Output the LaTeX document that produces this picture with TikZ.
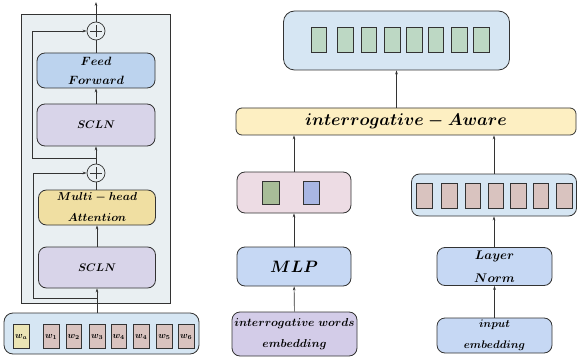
\RequirePackage{fix-cm}
\documentclass[tikz,border=0pt]{standalone}
\usepackage{amsmath,bm}
\usetikzlibrary{arrows.meta}
\definecolor{panel}{HTML}{E9EFF2}
\definecolor{ffblue}{HTML}{BCD3EE}
\definecolor{lav}{HTML}{D8D4E9}
\definecolor{wheat}{HTML}{F0DFA2}
\definecolor{ltblue}{HTML}{D6E6F3}
\definecolor{tile}{HTML}{D9C3BF}
\definecolor{tilea}{HTML}{EBE5B5}
\definecolor{gtile}{HTML}{BDD8C4}
\definecolor{iaye}{HTML}{FDEFC2}
\definecolor{pink}{HTML}{EDDCE4}
\definecolor{dgreen}{HTML}{A8BD98}
\definecolor{dblue}{HTML}{A9B6E3}
\definecolor{mlpblue}{HTML}{C6D8F4}
\definecolor{iwe}{HTML}{D3CCE8}
\definecolor{edge}{HTML}{333333}
\tikzset{
  box/.style={draw=edge, line width=0.8pt, rounded corners=8pt, inner sep=0pt, align=center},
  tilebox/.style={draw=edge, line width=0.7pt, fill=tile, inner sep=0pt, minimum width=15.6pt, minimum height=24pt, font=\fontsize{9}{10}\selectfont\boldmath},
  arr/.style={-{Stealth[length=4pt,width=2.6pt]}, line width=0.6pt, draw=edge},
  ln/.style={line width=0.6pt, draw=edge},
  plus/.style={circle, draw=edge, line width=0.7pt, fill=panel, minimum size=18pt, inner sep=0pt,
    path picture={\draw[edge, line width=0.7pt] ([xshift=-6pt]path picture bounding box.center) -- ([xshift=6pt]path picture bounding box.center)
      ([yshift=-6pt]path picture bounding box.center) -- ([yshift=6pt]path picture bounding box.center);}},
}
\begin{document}
\begin{tikzpicture}[x=1pt,y=-1pt]
\useasboundingbox (0,0) rectangle (577,358);
% left panel
\node[draw=edge, line width=0.8pt, fill=panel, minimum width=149pt, minimum height=289pt, inner sep=0pt] (panel) at (95.5,158.5) {};
\node[plus] (p1) at (96,31) {};
\node[plus] (p2) at (96,173) {};
\node[box, fill=ffblue, minimum width=118pt, minimum height=35pt, font=\fontsize{12}{19}\selectfont\boldmath] (ff) at (96,70.5) {$Feed$\\$Forward$};
\node[box, fill=lav, minimum width=118pt, minimum height=42pt, font=\fontsize{11}{12}\selectfont\boldmath] (scln1) at (96,125) {$SCLN$};
\node[box, fill=wheat, minimum width=117pt, minimum height=35pt, font=\fontsize{11.5}{21}\selectfont\boldmath] (mha) at (97,207.5) {$Multi-head$\\$Attention$};
\node[box, fill=lav, minimum width=117pt, minimum height=41pt, font=\fontsize{11}{12}\selectfont\boldmath] (scln2) at (97,267.5) {$SCLN$};
\node[box, fill=ltblue, minimum width=195pt, minimum height=41pt, rounded corners=9pt] (words) at (101.5,333.5) {};
\node[tilebox, fill=tilea] (wa) at (21.2,336.7) {$w_a$};
\node[tilebox] (w1) at (51.3,336.7) {$w_1$};
\node[tilebox] (w2) at (73.8,336.7) {$w_2$};
\node[tilebox] (w3) at (97.2,336.7) {$w_3$};
\node[tilebox] (w4) at (118.8,336.7) {$w_4$};
\node[tilebox] (w4b) at (141.2,336.7) {$w_4$};
\node[tilebox] (w5) at (164.5,336.7) {$w_5$};
\node[tilebox] (w6) at (186.2,336.7) {$w_6$};
\coordinate (topout) at (96,2);
\coordinate (j1) at (96,158);
\coordinate (c1) at (32,158);
\coordinate (j2) at (97,298);
\coordinate (c2) at (33,298);
\draw[arr] (p1) -- (topout);
\draw[ln] (ff) -- (p1);
\draw[arr] (scln1.north -| ff.south) -- (ff.south);
\draw[arr] (p2.north) -- (p2.north |- scln1.south);
\draw[arr] (j1) -- (c1) |- (p1);
\draw[ln] (mha.north -| p2) -- (p2);
\draw[arr] (scln2.north) -- (mha.south);
\draw[arr] (scln2.south |- words.north) -- (scln2.south);
\draw[arr] (j2) -- (c2) |- (p2);
% right part
\node[box, fill=ltblue, minimum width=226pt, minimum height=59pt, rounded corners=11pt] (top) at (396.5,40.5) {};
\foreach \x/\n in {318.8/1,345.5/2,368.8/3,392.2/4,414.5/5,435.8/6,459.5/7,481.2/8}
  \node[tilebox, fill=gtile, minimum height=24.5pt] (g\n) at (\x,40) {};
\node[box, fill=iaye, minimum width=340pt, minimum height=27pt, rounded corners=6pt, font=\fontsize{17}{19}\selectfont\boldmath] (ia) at (406,121.5) {$interrogative-Aware$};
\node[box, fill=pink, minimum width=114pt, minimum height=41pt] (pk) at (294,192.5) {};
\node[tilebox, fill=dgreen, minimum width=17pt, minimum height=23pt] (pg) at (270.5,192.5) {};
\node[tilebox, fill=dblue, minimum width=16pt, minimum height=23pt] (pb) at (311,192.5) {};
\node[box, fill=ltblue, minimum width=165pt, minimum height=42pt] (rb) at (494,195) {};
\foreach \x/\n in {424.5/1,449.5/2,473/3,496/4,518.5/5,541/6,564.5/7}
  \node[tilebox, minimum height=25pt] (r\n) at (\x,195.8) {};
\node[box, fill=mlpblue, minimum width=114pt, minimum height=39pt, font=\fontsize{16.5}{18}\selectfont\boldmath] (mlp) at (294,266.5) {$MLP$};
\node[box, fill=iwe, minimum width=125pt, minimum height=44pt, font=\fontsize{11.5}{21}\selectfont\boldmath] (iw) at (294.5,334) {$interrogative\ words$\\$embedding$};
\node[box, fill=mlpblue, minimum width=115pt, minimum height=38pt, font=\fontsize{12.5}{23}\selectfont\boldmath] (lnorm) at (494.5,266.5) {$Layer$\\$Norm$};
\node[box, fill=mlpblue, minimum width=115pt, minimum height=35pt, font=\fontsize{11}{21}\selectfont\boldmath] (ie) at (494.5,335.5) {$input$\\$embedding$};
\draw[arr] (top.south |- ia.north) -- (top.south);
\draw[arr] (pk.north) -- (pk.north |- ia.south);
\draw[arr] (rb.north) -- (rb.north |- ia.south);
\draw[arr] (mlp) -- (pk);
\draw[arr] (iw) -- (mlp);
\draw[arr] (lnorm.north -| rb) -- (rb);
\draw[arr] (ie) -- (lnorm);
\end{tikzpicture}
\end{document}
